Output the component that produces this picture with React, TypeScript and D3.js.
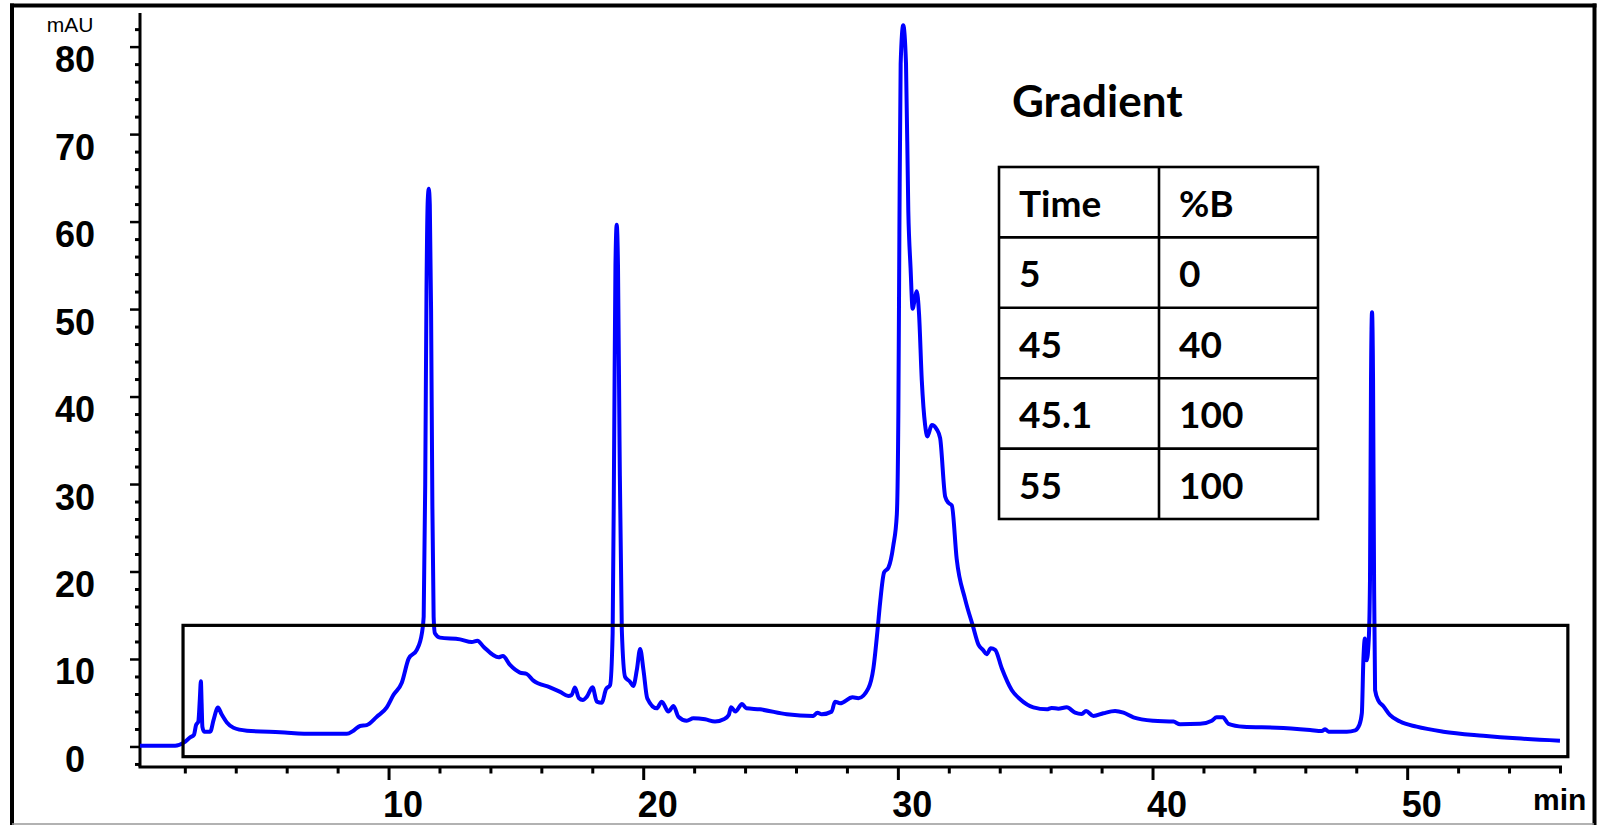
import React from "react";
import * as d3 from "d3";

// ---- data ----
const retentionTime: number[] = [
  0.22, 1.0, 1.6, 1.94, 2.19, 2.34, 2.42, 2.51, 2.57, 2.61, 2.64, 2.67, 2.74, 2.98, 3.11, 3.28, 3.43, 3.63, 3.89, 4.42,
  5.72, 7.03, 8.34, 8.6, 8.86, 9.12, 9.52, 9.91, 10.17, 10.5, 10.77, 11.09, 11.29, 11.36, 11.42, 11.47, 11.52, 11.56, 11.6, 11.65,
  11.7, 11.75, 11.8, 12.0, 12.79, 13.25, 13.47, 13.71, 14.3, 14.47, 14.75, 15.14, 15.41, 15.67, 16.32, 16.72, 17.04, 17.17, 17.3, 17.45,
  17.61, 17.77, 17.99, 18.16, 18.35, 18.52, 18.68, 18.78, 18.84, 18.89, 18.94, 18.99, 19.05, 19.14, 19.27, 19.46, 19.59, 19.73, 19.86, 19.99,
  20.14, 20.51, 20.71, 20.97, 21.17, 21.36, 21.69, 21.95, 22.41, 22.8, 23.14, 23.34, 23.43, 23.6, 23.86, 24.03, 24.57, 25.62, 26.66, 26.82,
  26.99, 27.38, 27.51, 27.71, 28.2, 28.43, 28.82, 29.02, 29.18, 29.28, 29.44, 29.61, 29.8, 29.94, 30.0, 30.04, 30.09, 30.19, 30.3, 30.39,
  30.48, 30.56, 30.65, 30.72, 30.81, 30.92, 31.05, 31.14, 31.31, 31.51, 31.64, 31.84, 31.97, 32.1, 32.29, 32.62, 32.92, 33.15, 33.32, 33.47,
  33.63, 33.8, 34.06, 34.45, 34.78, 35.3, 35.83, 36.02, 36.28, 36.61, 36.94, 37.2, 37.37, 37.66, 38.05, 38.51, 38.84, 39.23, 40.02, 40.8,
  41.06, 41.85, 42.31, 42.5, 42.74, 42.96, 43.55, 44.86, 46.17, 46.63, 46.76, 46.89, 47.61, 47.94, 48.1, 48.2, 48.26, 48.32, 48.39, 48.47,
  48.52, 48.56, 48.6, 48.64, 48.68, 48.72, 48.85, 49.04, 49.3, 49.7, 50.35, 51.4, 52.97, 54.28, 55.98,
];
const absorbance: number[] = [
  0.15, 0.15, 0.15, 0.5, 1.1, 1.4, 2.5, 2.9, 5.5, 7.5, 5.0, 2.3, 1.75, 1.75, 3.1, 4.5, 3.7, 2.8, 2.2, 1.86,
  1.68, 1.5, 1.5, 1.86, 2.4, 2.5, 3.46, 4.53, 5.94, 7.35, 10.1, 11.1, 13.0, 14.9, 30, 52, 62.5, 63.8, 62, 50,
  28, 14.9, 13.0, 12.5, 12.3, 12.0, 12.15, 11.46, 10.25, 10.4, 9.37, 8.5, 8.34, 7.58, 6.82, 6.3, 5.83, 5.94, 6.8, 5.6,
  5.37, 5.75, 6.82, 5.18, 5.06, 6.6, 7.08, 13, 35, 55, 59.7, 55, 35, 13.4, 8.0, 7.46, 6.97, 8.8, 11.2, 8.8,
  5.56, 4.42, 5.18, 4.04, 4.69, 3.46, 3.0, 3.28, 3.16, 2.9, 3.16, 3.66, 4.53, 4.04, 4.91, 4.42, 4.3, 3.73, 3.54, 3.92,
  3.73, 4.04, 5.18, 5.0, 5.68, 5.58, 6.7, 9.0, 13.3, 16.4, 19.95, 20.5, 23.0, 26.6, 38.3, 58.7, 78.1, 82.5, 78.1, 61.3,
  54.7, 50.1, 51.3, 52.1, 49.6, 41.9, 36.8, 35.5, 36.8, 36.3, 35.3, 28.6, 27.9, 27.6, 21.5, 16.9, 13.9, 11.66, 11.1, 10.6,
  11.28, 11.1, 9.0, 6.51, 5.45, 4.53, 4.3, 4.46, 4.38, 4.53, 3.92, 3.77, 4.11, 3.54, 3.85, 4.11, 3.92, 3.39, 3.0, 2.9,
  2.6, 2.65, 3.0, 3.4, 3.4, 2.65, 2.32, 2.2, 1.94, 1.83, 2.02, 1.75, 1.75, 1.9, 2.5, 3.85, 9.9, 12.4, 9.9, 12.2,
  19.1, 42, 49.7, 42, 19.1, 6.5, 5.3, 4.69, 3.66, 2.9, 2.32, 1.75, 1.29, 0.99, 0.72,
];

const xMajorTicks: number[] = [10, 20, 30, 40, 50];
const yMajorTicks: number[] = [0, 10, 20, 30, 40, 50, 60, 70, 80];
const xMinorStep = 2;
const yMinorStep = 2;
const xUnit = "min";
const yUnit = "mAU";

// highlighted region (time range / absorbance range)
const boxTime: number[] = [1.91, 56.29];
const boxAbs: number[] = [-1.11, 13.9];

// gradient table
const gradientTitle = "Gradient";
const tableHeader: string[] = ["Time", "%B"];
const gradientTime: string[] = ["5", "45", "45.1", "55"];
const gradientB: string[] = ["0", "40", "100", "100"];

// ---- layout ----
const W = 1597;
const H = 825;

export default function App() {
  const x = d3.scaleLinear().domain([0.22, 56.06]).range([140, 1562]);
  const y = d3.scaleLinear().domain([-2.29, 83.9]).range([767, 13]);

  const pts: [number, number][] = retentionTime.map((t, i) => [t, absorbance[i]]);
  const line = d3
    .line<[number, number]>()
    .x((d) => x(d[0]))
    .y((d) => y(d[1]))
    .curve(d3.curveMonotoneX);

  const [xd0, xd1] = x.domain();
  const [yd0, yd1] = y.domain();
  const xMinor = d3.range(Math.ceil(xd0 / xMinorStep) * xMinorStep, xd1, xMinorStep).filter((v) => v % 10 !== 0);
  const yMinor = d3.range(Math.ceil(yd0 / yMinorStep) * yMinorStep, yd1, yMinorStep).filter((v) => v % 10 !== 0);

  const axisFont = "'Liberation Sans', Arial, sans-serif";
  const tableFont = "Lato, 'Open Sans', sans-serif";

  // table geometry
  const tX = 999;
  const tY = 167;
  const colW = [160, 159];
  const rowH = 70.4;
  const rows = [tableHeader, ...gradientTime.map((t, i) => [t, gradientB[i]])];

  return (
    <svg
      width={W}
      height={H}
      style={{ position: "absolute", left: 0, top: 0, background: "#fff" }}
    >
      <rect x={0} y={0} width={W} height={H} fill="#fff" />
      {/* outer frame */}
      <line x1={12} y1={3.5} x2={12} y2={825} stroke="#000" strokeWidth={4} />
      <line x1={10} y1={5.5} x2={1596.5} y2={5.5} stroke="#000" strokeWidth={4} />
      <line x1={1594.5} y1={3.5} x2={1594.5} y2={825} stroke="#000" strokeWidth={4} />
      <line x1={12} y1={824} x2={1594} y2={824} stroke="#999" strokeWidth={1.5} />

      {/* axes */}
      <line x1={x(xd0)} y1={y(yd0)} x2={x(xd0)} y2={y(yd1)} stroke="#000" strokeWidth={3} />
      <line x1={x(xd0) - 1.5} y1={y(yd0)} x2={x(xd1)} y2={y(yd0)} stroke="#000" strokeWidth={3} />

      {/* y ticks */}
      {yMajorTicks.map((v) => (
        <g key={"ym" + v}>
          <line x1={x(xd0) - 10} x2={x(xd0)} y1={y(v)} y2={y(v)} stroke="#000" strokeWidth={2.5} />
          <text
            x={75}
            y={y(v) + 25}
            textAnchor="middle"
            fontFamily={axisFont}
            fontWeight="bold"
            fontSize={36}
          >
            {v}
          </text>
        </g>
      ))}
      {yMinor.map((v) => (
        <line key={"yn" + v} x1={x(xd0) - 5} x2={x(xd0)} y1={y(v)} y2={y(v)} stroke="#000" strokeWidth={3} />
      ))}
      <text x={70} y={32} textAnchor="middle" fontFamily={axisFont} fontSize={21}>
        {yUnit}
      </text>

      {/* x ticks */}
      {xMajorTicks.map((v) => (
        <g key={"xm" + v}>
          <line x1={x(v)} x2={x(v)} y1={y(yd0)} y2={y(yd0) + 13} stroke="#000" strokeWidth={3} />
          <text
            x={x(v) + 14}
            y={817}
            textAnchor="middle"
            fontFamily={axisFont}
            fontWeight="bold"
            fontSize={36}
          >
            {v}
          </text>
        </g>
      ))}
      {xMinor.map((v) => (
        <line key={"xn" + v} x1={x(v)} x2={x(v)} y1={y(yd0)} y2={y(yd0) + 6.5} stroke="#000" strokeWidth={3} />
      ))}
      <text x={1533} y={810} fontFamily={axisFont} fontWeight="bold" fontSize={30}>
        {xUnit}
      </text>

      {/* trace */}
      <path d={line(pts) ?? ""} fill="none" stroke="#0000ff" strokeWidth={4} strokeLinejoin="round" />

      {/* highlight box */}
      <rect
        x={x(boxTime[0])}
        y={y(boxAbs[1])}
        width={x(boxTime[1]) - x(boxTime[0])}
        height={y(boxAbs[0]) - y(boxAbs[1])}
        fill="none"
        stroke="#000"
        strokeWidth={3.2}
      />

      {/* gradient table */}
      <text x={1012} y={117} fontFamily={tableFont} fontWeight="bold" fontSize={44}>
        {gradientTitle}
      </text>
      <rect x={tX} y={tY} width={colW[0] + colW[1]} height={rowH * rows.length} fill="none" stroke="#000" strokeWidth={2.6} />
      <line x1={tX + colW[0]} x2={tX + colW[0]} y1={tY} y2={tY + rowH * rows.length} stroke="#000" strokeWidth={2.6} />
      {rows.slice(1).map((_, i) => (
        <line key={"rl" + i} x1={tX} x2={tX + colW[0] + colW[1]} y1={tY + rowH * (i + 1)} y2={tY + rowH * (i + 1)} stroke="#000" strokeWidth={2.6} />
      ))}
      {rows.map((r, i) => (
        <g key={"row" + i}>
          <text x={tX + 20} y={tY + rowH * i + 50} fontFamily={tableFont} fontWeight="bold" fontSize={37}>
            {r[0]}
          </text>
          <text x={tX + colW[0] + 20} y={tY + rowH * i + 50} fontFamily={tableFont} fontWeight="bold" fontSize={37}>
            {r[1]}
          </text>
        </g>
      ))}
    </svg>
  );
}
